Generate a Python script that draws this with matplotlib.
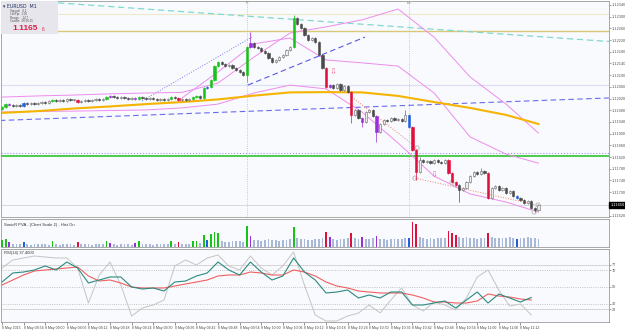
import numpy as np
import matplotlib
matplotlib.use("Agg")
import matplotlib.pyplot as plt
from matplotlib.patches import Rectangle
from matplotlib.transforms import blended_transform_factory

plt.rcParams['font.family'] = ['Liberation Sans', 'DejaVu Sans']

W, H = 625, 332

# ---- candles (M1), open of bar 0 then closes ----
first_open = 1.11985
close = [1.11991, 1.12001, 1.11998, 1.11995, 1.11998, 1.11995, 1.12005, 1.12001, 1.12005, 1.12001,
         1.12005, 1.12008, 1.12005, 1.12012, 1.12015, 1.12012, 1.12015, 1.12012, 1.12018, 1.12015,
         1.12015, 1.12008, 1.12012, 1.12015, 1.12012, 1.12015, 1.12018, 1.12015, 1.12018, 1.12025,
         1.12029, 1.12025, 1.12022, 1.12025, 1.12022, 1.12018, 1.12022, 1.12018, 1.12025, 1.12022,
         1.12018, 1.12022, 1.12018, 1.12015, 1.12018, 1.12015, 1.12018, 1.12025, 1.12022, 1.12015,
         1.12018, 1.12015, 1.12018, 1.12025, 1.12029, 1.12022, 1.12056, 1.12059, 1.12083, 1.12131,
         1.12145, 1.12138, 1.12131, 1.12134, 1.12124, 1.12118, 1.12111, 1.12101, 1.12196, 1.12210,
         1.12196, 1.12193, 1.12183, 1.12176, 1.12159, 1.12145, 1.12152, 1.12162, 1.12169, 1.12186,
         1.12196, 1.12295, 1.12275, 1.12261, 1.12237, 1.12220, 1.12227, 1.12213, 1.12169, 1.12124,
         1.12059, 1.12066, 1.12056, 1.12069, 1.12049, 1.12063, 1.12042, 1.11964, 1.11981, 1.11954,
         1.11940, 1.11974, 1.11981, 1.11960, 1.11906, 1.11933, 1.11947, 1.11943, 1.11954, 1.11947,
         1.11950, 1.11943, 1.11964, 1.11923, 1.11844, 1.11769, 1.11810, 1.11803, 1.11806, 1.11799,
         1.11810, 1.11803, 1.11799, 1.11810, 1.11765, 1.11735, 1.11724, 1.11708, 1.11714, 1.11735,
         1.11755, 1.11769, 1.11762, 1.11772, 1.11765, 1.11680, 1.11714, 1.11721, 1.11708, 1.11714,
         1.11697, 1.11704, 1.11687, 1.11680, 1.11673, 1.11663, 1.11670, 1.11646, 1.11639, 1.11656]
# long wicks: bar -> (high, low)
wicks = {68: (None, 1.12077), 69: (1.12248, None), 81: (1.12306, None), 97: (None, 1.11936),
         100: (None, 1.11923), 104: (None, 1.11871), 112: (1.11981, None), 115: (None, 1.11742),
         116: (1.11820, None), 127: (None, 1.11666), 133: (1.11783, None), 148: (None, 1.11632)}
# PVA colouring of bars (candle + histogram)
pva = {0: 'g', 1: 'g', 2: 'p', 6: 'b', 14: 'g', 21: 'r', 29: 'g', 30: 'p', 37: 'p', 38: 'g',
       47: 'g', 49: 'r', 53: 'g', 54: 'g', 56: 'g', 57: 'b', 58: 'g', 59: 'g', 60: 'g', 68: 'g',
       69: 'p', 81: 'g', 90: 'r', 91: 'p', 97: 'r', 100: 'p', 104: 'p', 113: 'b', 114: 'r',
       115: 'r', 124: 'r', 125: 'r', 126: 'r', 135: 'r', 143: 'b'}
volume = [70, 80, 50, 30, 35, 30, 55, 30, 25, 30,
          30, 35, 30, 25, 60, 30, 25, 30, 35, 30,
          25, 55, 30, 35, 30, 25, 30, 35, 30, 60,
          45, 30, 25, 30, 35, 30, 25, 45, 60, 30,
          35, 30, 25, 30, 35, 30, 30, 60, 35, 55,
          30, 35, 30, 60, 65, 40, 120, 70, 130, 150,
          140, 60, 55, 50, 60, 65, 60, 55, 210, 110,
          70, 75, 65, 70, 80, 75, 70, 65, 70, 75,
          80, 200, 90, 80, 85, 75, 70, 80, 85, 90,
          150, 100, 80, 75, 85, 80, 90, 140, 90, 85,
          100, 80, 85, 90, 110, 85, 80, 75, 80, 85,
          80, 85, 90, 90, 250, 230, 100, 90, 85, 90,
          85, 90, 95, 90, 160, 140, 120, 100, 95, 100,
          95, 90, 85, 90, 95, 140, 100, 90, 95, 90,
          95, 100, 90, 80, 95, 90, 100, 95, 90, 85]

# ---- overlays sampled every 10 bars ----
ma_bars = [0, 10, 20, 30, 40, 50, 60, 70, 80, 90, 100, 110, 120, 130, 140, 149]
ma_gold = [1.11971, 1.11977, 1.11986, 1.11993, 1.12001, 1.12008, 1.12017, 1.12030,
           1.12041, 1.12042, 1.12041, 1.12029, 1.12008, 1.11988, 1.11964, 1.11933]
band_a = [1.12025, 1.12029, 1.12032, 1.12036, 1.12039, 1.12041, 1.12073, 1.12162,
          1.12244, 1.12265, 1.12289, 1.12326, 1.12230, 1.12094, 1.12001, 1.11902]
band_c = [None, None, None, None, None, 1.12022, 1.12111, 1.12207,
          1.12227, 1.12152, 1.12142, 1.12131, 1.12039, 1.11889, 1.11830, 1.11799]
band_d = [1.11974, 1.11976, 1.11977, 1.11979, 1.11981, 1.11988, 1.12001, 1.12039,
          1.12066, 1.12053, 1.11974, 1.11868, 1.11755, 1.11694, 1.11666, 1.11632]

# trend lines (bar, price) pairs
cyan_line = ([15.6, 168.6], [1.12347, 1.12215])
blue_long = ([-0.6, 168.6], [1.11945, 1.12022])
blue_dotted = ([38.9, 69.4], [1.12012, 1.12230])
blue_dashed = ([68.3, 100.8], [1.12066, 1.12230])
salmon_1 = ([97.2, 115.3], [1.12025, 1.11851])
salmon_2 = ([114.7, 148.6], [1.11748, 1.11656])
fractal_bars = [115.3, 114.7, 125.0, 147.8, 148.9]
fractal_prices = [1.11851, 1.11748, 1.11733, 1.11632, 1.11656]
arrow_bars = [92, 120]
arrow_prices = [1.12111, 1.11759]
vlines_at = [68, 113]
level_pale = 1.12309
level_khaki = 1.12251
level_lav = 1.12066
level_blue = 1.11834
level_green = 1.11824

# ---- RSI panel, every 3 bars ----
rsi_bars = list(range(0, 150, 3))
rsi_main = [56.0, 66.8, 68.0, 70.4, 75.2, 70.4, 80.0, 72.8, 54.8, 58.4,
            62.0, 62.0, 50.0, 47.6, 48.8, 45.2, 56.0, 57.2, 63.2, 66.8,
            80.0, 70.4, 64.4, 80.0, 68.0, 58.4, 63.2, 84.8, 68.0, 58.4,
            42.8, 44.0, 46.4, 36.8, 40.4, 36.8, 44.0, 44.0, 28.4, 28.4,
            30.8, 33.2, 24.8, 34.4, 44.0, 30.8, 41.6, 36.8, 32.0, 37.4]
rsi_signal = [52.4, 58.4, 64.4, 69.2, 70.4, 71.6, 72.8, 74.0, 63.2, 57.2,
              58.4, 54.8, 50.0, 48.8, 48.8, 48.8, 51.2, 53.6, 56.0, 58.4,
              63.2, 64.4, 64.4, 68.0, 66.8, 64.4, 64.4, 70.4, 68.0, 63.2,
              56.0, 51.2, 48.8, 45.2, 44.0, 42.8, 42.8, 42.8, 40.4, 36.8,
              32.0, 32.0, 30.8, 30.8, 33.2, 41.6, 39.2, 38.0, 35.6, 34.4]
rsi_fast = [72.8, 82.4, 84.8, 87.2, 86.0, 84.8, 84.8, 72.8, 30.8, 64.4,
            80.0, 52.4, 15.2, 24.8, 28.4, 34.4, 75.2, 82.4, 76.4, 84.8,
            88.4, 75.2, 70.4, 87.2, 72.8, 64.4, 75.2, 92.0, 52.4, 16.4,
            9.2, 9.2, 15.2, 18.8, 28.4, 18.8, 34.4, 48.8, 28.4, 21.2,
            32.0, 28.4, 22.4, 36.8, 62.0, 70.4, 46.4, 27.2, 29.6, 16.4]
rsi_levels_dotted = [70, 50, 30]
rsi_levels_solid = [77, 23]

time_labels = ["8 May 2015", "8 May 08:54", "8 May 09:00", "8 May 09:06", "8 May 09:12",
               "8 May 09:18", "8 May 09:24", "8 May 09:30", "8 May 09:36", "8 May 09:42",
               "8 May 09:48", "8 May 09:54", "8 May 10:00", "8 May 10:06", "8 May 10:12",
               "8 May 10:18", "8 May 10:24", "8 May 10:30", "8 May 10:36", "8 May 10:42",
               "8 May 10:48", "8 May 10:54", "8 May 11:00", "8 May 11:06", "8 May 11:12"]

pva_colors = {'g': '#19c219', 'r': '#e0103c', 'b': '#1f5fe0', 'p': '#9a2fd6'}
bg = '#f8fafd'
edge = '#9a9a9a'


def px_axes(x0, y0, x1, y1):
    return fig.add_axes([x0 / W, 1 - y1 / H, (x1 - x0) / W, (y1 - y0) / H])


def style(ax):
    ax.set_facecolor(bg)
    for s in ax.spines.values():
        s.set_color(edge)
        s.set_linewidth(0.6)
    ax.yaxis.tick_right()
    ax.tick_params(axis='y', labelsize=2.8, length=1.5, width=0.4, colors='#555555', pad=0.6)
    ax.tick_params(axis='x', length=0)
    ax.set_xticklabels([])
    ax.set_xlim(-0.28, 168.6)


fig = plt.figure(figsize=(W / 100, H / 100), dpi=100)
fig.patch.set_facecolor('white')

# ================= main price panel =================
ax = px_axes(1, 1, 609, 217)
style(ax)
ax.set_ylim(1.116150, 1.123535)
ticks = [1.1162 + 0.0004 * k for k in range(19)]
ax.set_yticks(ticks)
# the tick hidden under the current-price tag gets no label
ax.set_yticklabels(["" if abs(t - close[-1]) < 0.0002 else f"{t:.5f}" for t in ticks])

for lvl, col, ls, lw in [(level_pale, '#ece8c8', '-', 0.8), (level_khaki, '#d8c878', '-', 1.0),
                         (level_lav, '#dcdcf2', '-', 0.8), (level_blue, '#9a9af0', ':', 0.8),
                         (level_green, '#1fbf1f', '-', 1.1), (close[-1], '#d8d8d8', '-', 0.7)]:
    ax.axhline(lvl, color=col, ls=ls, lw=lw, zorder=1)

for b in vlines_at:
    ax.axvline(b, color='#b8b8b8', ls=':', lw=0.6, zorder=1)
ax.text(68, 1.12345, "P", fontsize=2.8, color='#777777', ha='center', va='center')
ax.text(113, 1.12345, "Lo", fontsize=2.8, color='#777777', ha='center', va='center')

ax.plot(*cyan_line, color='#7fd9cf', lw=0.9, ls=(0, (5, 3)), zorder=2)
ax.plot(*blue_long, color='#6b6bef', lw=0.8, ls=(0, (5, 3)), zorder=2)
ax.plot(*blue_dotted, color='#7a7aef', lw=0.7, ls=':', zorder=2)
ax.plot(*blue_dashed, color='#5a5ae8', lw=0.8, ls=(0, (5, 3)), zorder=2)

band_c_arr = np.array([np.nan if v is None else v for v in band_c])
for band in (band_a, band_c_arr, band_d):
    ax.plot(ma_bars, band, color='#ee8cee', lw=0.7, zorder=2)
ax.plot(ma_bars, ma_gold, color='#f5b400', lw=1.5, zorder=2)

ax.plot(*salmon_1, color='#f08070', lw=0.7, ls=':', zorder=3)
ax.plot(*salmon_2, color='#f08070', lw=0.7, ls=':', zorder=3)
ax.scatter(fractal_bars, fractal_prices, s=9, facecolor='none', edgecolor='#c4c4c4', lw=0.8, zorder=4)

opens = [first_open] + close[:-1]
xs = np.arange(len(close))
highs, lows, faces, edges = [], [], [], []
for i, (o, c) in enumerate(zip(opens, close)):
    hi, lo = max(o, c) + 0.00003, min(o, c) - 0.00003
    if i in wicks:
        whi, wlo = wicks[i]
        hi = whi if whi else hi
        lo = wlo if wlo else lo
    highs.append(hi)
    lows.append(lo)
    if i in pva:
        faces.append(pva_colors[pva[i]])
        edges.append(pva_colors[pva[i]])
    elif c >= o:
        faces.append('#eeeeee')
        edges.append('#6a6a6a')
    else:
        faces.append('#4a4a4a')
        edges.append('#4a4a4a')
ax.vlines(xs, lows, highs, colors=edges, lw=0.5, zorder=5)
body = np.array(close) - np.array(opens)
body = np.where(np.abs(body) < 0.00002, 0.00002, body)
ax.bar(xs, body, bottom=opens, width=0.62, color=faces, edgecolor=edges, lw=0.4, zorder=6)

for b, p in zip(arrow_bars, arrow_prices):
    ax.text(b, p, "\u21e9", fontsize=6, color='#f06a8a', ha='center', va='center', zorder=7,
            family='DejaVu Sans')

# current price label
tr = blended_transform_factory(ax.transAxes, ax.transData)
ax.text(1.002, close[-1], f"{close[-1]:.5f}", transform=tr, fontsize=2.8, color='white',
        va='center', ha='left', zorder=10,
        bbox=dict(boxstyle='square,pad=0.2', fc='black', ec='black'), clip_on=False)

# info box
ax.add_patch(Rectangle((0, 1 - 33 / 216), 57 / 608, 33 / 216, transform=ax.transAxes,
                       fc='#e6e6ec', ec='none', zorder=9))
ax.text(2 / 608, 1 - 5 / 216, "\u25be EURUSD  M1", transform=ax.transAxes, fontsize=3.4,
        color='#203060', va='center', zorder=10, family=['DejaVu Sans'])
info = ["Spread:   0.2", "Lot/Pip:  1.00", "Range:    14.7", "Candle:  00:00:15"]
for k, s in enumerate(info):
    ax.text(9 / 608, 1 - (10 + 3.4 * k) / 216, s, transform=ax.transAxes, fontsize=2.1,
            color='#505050', va='center', zorder=10)
ax.text(11 / 608, 1 - 27.5 / 216, f"{close[-1]:.5f}"[:-1], transform=ax.transAxes, fontsize=6,
        color='#e0204a', va='center', zorder=10, fontweight='bold')
ax.text(41 / 608, 1 - 28.5 / 216, f"{close[-1]:.5f}"[-1], transform=ax.transAxes, fontsize=3.4,
        color='#e0204a', va='center', zorder=10)

# ================= PVA histogram =================
av = px_axes(1, 219, 609, 247)
style(av)
av.set_ylim(0, 280)
av.set_yticks([])
vcols = [pva_colors[pva[i]] if i in pva else '#a9b8d6' for i in range(len(volume))]
av.bar(xs, volume, width=0.5, color=vcols, lw=0, zorder=3)
av.text(3 / 608, 0.78, "SonicR PVA - (Chart Scale 2) - Hist On", transform=av.transAxes,
        fontsize=3.0, color='#333333', va='center')

# ================= RSI panel =================
ar = px_axes(1, 249, 609, 322)
style(ar)
ar.set_ylim(8.0, 95.6)
for lv in rsi_levels_dotted:
    ar.axhline(lv, color='#b4b4b4', ls=':', lw=0.6, zorder=1)
for lv in rsi_levels_solid:
    ar.axhline(lv, color='#d4d4d4', ls='-', lw=0.7, zorder=1)
ar.set_yticks(rsi_levels_solid + rsi_levels_dotted)
ar.plot(rsi_bars, rsi_fast, color='#c4c4c4', lw=0.7, zorder=2)
ar.plot(rsi_bars, rsi_signal, color='#f06060', lw=0.8, zorder=3)
ar.plot(rsi_bars, rsi_main, color='#2b8a80', lw=0.8, zorder=4)
ar.text(3 / 608, 0.95, f"RSI(14) {rsi_main[-1]:.4f}", transform=ar.transAxes,
        fontsize=3.0, color='#333333', va='center')

tick_bars = list(range(0, 6 * len(time_labels), 6))
ar.set_xticks(tick_bars)
ar.set_xticklabels(time_labels, fontsize=2.5, color='#444444', ha='left')
ar.tick_params(axis='x', length=2, width=0.4, pad=1, colors='#444444')
ar.set_xlim(-0.28, 168.6)

fig.savefig("out.png", dpi=100, facecolor='white')
